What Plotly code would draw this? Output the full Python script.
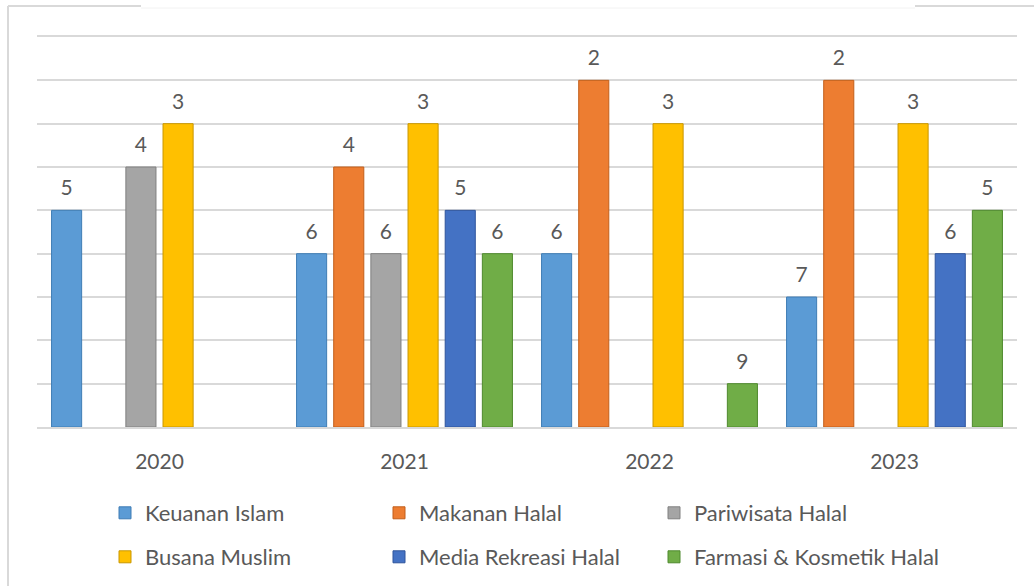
import plotly.graph_objects as go

years = ["2020", "2021", "2022", "2023"]
series_names = ["Keuanan Islam", "Makanan Halal", "Pariwisata Halal",
                "Busana Muslim", "Media Rekreasi Halal", "Farmasi & Kosmetik Halal"]
keuangan_islam = [5, 6, 6, 7]
makanan_halal = [None, 4, 2, 2]
pariwisata_halal = [4, 6, None, None]
busana_muslim = [3, 3, 3, 3]
media_rekreasi_halal = [None, 5, None, 6]
farmasi_kosmetik_halal = [None, 6, 9, 5]

series_values = [keuangan_islam, makanan_halal, pariwisata_halal,
                 busana_muslim, media_rekreasi_halal, farmasi_kosmetik_halal]
fill_colors = ["#5B9BD5", "#ED7D31", "#A5A5A5", "#FFC000", "#4472C4", "#70AD47"]
line_colors = ["#3F7DB5", "#C25F1A", "#808080", "#C99700", "#2F559C", "#4F8A2E"]

BASE_RANK = 10
TEXT = "#595959"
FONT = "Lato"

L, R, T, B = 37, 17, 37, 159
W, H = 1034, 586
pw, ph = W - L - R, H - T - B

legend_ids = ["legend", "legend2", "legend3", "legend4", "legend5", "legend6"]
legend_cols_px = [105, 379, 654]
legend_rows_px = [513, 557]

fig = go.Figure()
for i, (name, vals) in enumerate(zip(series_names, series_values)):
    fig.add_trace(go.Bar(
        x=years,
        y=[None if v is None else v - BASE_RANK for v in vals],
        base=BASE_RANK,
        name=name,
        offsetgroup=str(i),
        marker=dict(color=fill_colors[i], line=dict(color=line_colors[i], width=1)),
        legend=legend_ids[i],
        hoverinfo="skip",
    ))
for i, (name, vals) in enumerate(zip(series_names, series_values)):
    fig.add_trace(go.Scatter(
        x=years,
        y=vals,
        mode="markers+text",
        text=[None if v is None else str(v) for v in vals],
        textposition="top center",
        textfont=dict(family=FONT, size=21, color=TEXT),
        marker=dict(size=14, opacity=0),
        offsetgroup=str(i),
        showlegend=False,
        cliponaxis=False,
        hoverinfo="skip",
    ))


def px(x):
    return (x - L) / pw


def py(y):
    return (H - B - y) / ph


frame = dict(type="line", xref="paper", yref="paper", line=dict(color="#D9D9D9", width=2))
shapes = [
    dict(frame, x0=px(8), x1=px(8), y0=py(6), y1=py(590)),
    dict(frame, x0=px(8), x1=px(141), y0=py(6), y1=py(6)),
    dict(frame, x0=px(915), x1=px(1040), y0=py(6), y1=py(6)),
    dict(type="line", xref="paper", yref="paper", x0=px(141), x1=px(915), y0=py(8), y1=py(8),
         line=dict(color="#F2F2F2", width=1)),
]

legends = {}
for i, lid in enumerate(legend_ids):
    legends[lid] = dict(
        orientation="h", xref="container", yref="container",
        x=legend_cols_px[i % 3] / W, xanchor="left",
        y=(H - legend_rows_px[i // 3]) / H, yanchor="middle",
        font=dict(family=FONT, size=22, color=TEXT), bgcolor="rgba(0,0,0,0)",
        itemclick=False, itemdoubleclick=False,
    )

fig.update_layout(
    width=W, height=H,
    margin=dict(l=L, r=R, t=T, b=B),
    paper_bgcolor="white", plot_bgcolor="white",
    barmode="group", bargap=0.09, bargroupgap=0.19,
    scattermode="group", scattergap=0.09,
    showlegend=True,
    font=dict(family=FONT, size=21, color=TEXT),
    shapes=shapes,
    xaxis=dict(showgrid=False, ticks="", ticklabelstandoff=15,
               tickfont=dict(family=FONT, size=21, color=TEXT),
               showline=True, mirror=True, linecolor="#D9D9D9", linewidth=1.5),
    yaxis=dict(range=[10, 1], dtick=1, tick0=0, showgrid=True, gridcolor="#D9D9D9",
               gridwidth=1.5, showticklabels=False, zeroline=False, ticks=""),
    **legends,
)

fig.write_html("out.html", config={"displayModeBar": False},
               post_script="document.body.style.margin='0';")
